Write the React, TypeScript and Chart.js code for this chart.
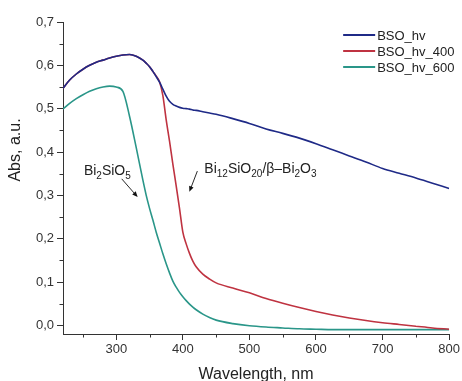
import { useEffect, useRef } from 'react';
import { Chart, registerables } from 'chart.js';

Chart.register(...registerables);

const FONT = '"Liberation Sans", Arial, sans-serif';

const wavelengths = [220, 230, 240, 250, 260, 270, 280, 290, 300, 310, 320, 330, 340, 345, 350, 355, 360, 365, 370, 375, 380, 385, 390, 395, 400, 405, 410, 415, 420, 430, 440, 450, 475, 500, 525, 550, 575, 600, 625, 650, 675, 700, 725, 750, 775, 800];

const bsoHv = [0.547, 0.566, 0.580, 0.591, 0.600, 0.607, 0.612, 0.617, 0.621, 0.624, 0.625, 0.621, 0.612, 0.605, 0.597, 0.586, 0.574, 0.561, 0.545, 0.529, 0.517, 0.510, 0.506, 0.503, 0.501, 0.500, 0.499, 0.497, 0.496, 0.493, 0.490, 0.487, 0.477, 0.466, 0.453, 0.443, 0.432, 0.419, 0.405, 0.391, 0.377, 0.362, 0.351, 0.340, 0.328, 0.316];

const bsoHv400 = [0.547, 0.566, 0.580, 0.591, 0.600, 0.607, 0.612, 0.617, 0.621, 0.624, 0.625, 0.621, 0.612, 0.605, 0.597, 0.586, 0.575, 0.562, 0.530, 0.474, 0.425, 0.372, 0.322, 0.270, 0.215, 0.188, 0.166, 0.148, 0.135, 0.118, 0.107, 0.098, 0.086, 0.075, 0.062, 0.051, 0.041, 0.032, 0.024, 0.017, 0.011, 0.006, 0.002, -0.002, -0.006, -0.009];

const bsoHv600 = [0.499, 0.512, 0.523, 0.532, 0.540, 0.546, 0.550, 0.552, 0.550, 0.540, 0.482, 0.410, 0.335, 0.300, 0.270, 0.243, 0.215, 0.190, 0.165, 0.142, 0.121, 0.102, 0.088, 0.076, 0.066, 0.057, 0.049, 0.042, 0.036, 0.026, 0.018, 0.012, 0.004, -0.001, -0.004, -0.006, -0.008, -0.009, -0.010, -0.010, -0.010, -0.010, -0.010, -0.010, -0.010, -0.010];

const seriesLabels = ['BSO_hv', 'BSO_hv_400', 'BSO_hv_600'];
const seriesColors = ['#1f2a87', '#bf3341', '#2a9689'];

const xMajorTicks = [300, 400, 500, 600, 700, 800];
const xMinorTicks = [250, 350, 450, 550, 650, 750];
const yMajorTicks = [0, 0.1, 0.2, 0.3, 0.4, 0.5, 0.6, 0.7];
const yMinorTicks = [0.05, 0.15, 0.25, 0.35, 0.45, 0.55, 0.65];

// annotation anchors in data units (wavelength, absorbance)
const label1Parts = [['Bi', false], ['2', true], ['SiO', false], ['5', true]];
const label1Pos = [251.4, 0.347];
const arrow1 = [[308.2, 0.338], [332.1, 0.296]];
const label2Parts = [['Bi', false], ['12', true], ['SiO', false], ['20', true], ['/β–Bi', false], ['2', true], ['O', false], ['3', true]];
const label2Pos = [432.3, 0.352];
const arrow2 = [[421.8, 0.356], [409.8, 0.308]];

const decorPlugin = {
  id: 'decor',
  afterDraw(chart: any) {
    const { ctx, chartArea, scales } = chart;
    const xs = scales.x;
    const ys = scales.y;
    ctx.save();
    // minor ticks
    ctx.strokeStyle = '#333';
    ctx.lineWidth = 1;
    ctx.beginPath();
    xMinorTicks.forEach((v) => {
      const px = Math.round(xs.getPixelForValue(v)) + 0.5;
      ctx.moveTo(px, chartArea.bottom);
      ctx.lineTo(px, chartArea.bottom + 3.5);
    });
    yMinorTicks.forEach((v) => {
      const py = Math.round(ys.getPixelForValue(v)) + 0.5;
      ctx.moveTo(chartArea.left, py);
      ctx.lineTo(chartArea.left - 3.5, py);
    });
    ctx.stroke();

    // legend
    ctx.font = `13px ${FONT}`;
    ctx.textBaseline = 'middle';
    ctx.textAlign = 'left';
    seriesLabels.forEach((lab, i) => {
      const yy = chartArea.top + 13 + i * 16;
      const x0 = chartArea.right - 106;
      ctx.strokeStyle = seriesColors[i];
      ctx.lineWidth = 2;
      ctx.beginPath();
      ctx.moveTo(x0, yy);
      ctx.lineTo(x0 + 32, yy);
      ctx.stroke();
      ctx.fillStyle = '#222';
      ctx.fillText(lab, x0 + 34, yy + 1);
    });

    // formula labels
    const drawFormula = (parts: any[], pos: number[]) => {
      let x = xs.getPixelForValue(pos[0]);
      const y = ys.getPixelForValue(pos[1]);
      ctx.fillStyle = '#222';
      ctx.textBaseline = 'alphabetic';
      parts.forEach(([t, sub]) => {
        ctx.font = sub ? `10px ${FONT}` : `14px ${FONT}`;
        ctx.fillText(t, x, sub ? y + 4 : y);
        x += ctx.measureText(t).width;
      });
    };
    drawFormula(label1Parts, label1Pos);
    drawFormula(label2Parts, label2Pos);

    const drawArrow = (a: number[][]) => {
      const x1 = xs.getPixelForValue(a[0][0]);
      const y1 = ys.getPixelForValue(a[0][1]);
      const x2 = xs.getPixelForValue(a[1][0]);
      const y2 = ys.getPixelForValue(a[1][1]);
      const ang = Math.atan2(y2 - y1, x2 - x1);
      ctx.strokeStyle = '#111';
      ctx.fillStyle = '#111';
      ctx.lineWidth = 0.9;
      ctx.beginPath();
      ctx.moveTo(x1, y1);
      ctx.lineTo(x2 - 4 * Math.cos(ang), y2 - 4 * Math.sin(ang));
      ctx.stroke();
      const L = 6;
      const w = 0.4;
      ctx.beginPath();
      ctx.moveTo(x2, y2);
      ctx.lineTo(x2 - L * Math.cos(ang - w), y2 - L * Math.sin(ang - w));
      ctx.lineTo(x2 - L * Math.cos(ang + w), y2 - L * Math.sin(ang + w));
      ctx.closePath();
      ctx.fill();
    };
    drawArrow(arrow1);
    drawArrow(arrow2);

    // axis titles
    ctx.fillStyle = '#222';
    ctx.font = `16px ${FONT}`;
    ctx.textAlign = 'center';
    ctx.textBaseline = 'alphabetic';
    ctx.fillText('Wavelength, nm', (chartArea.left + chartArea.right) / 2, chart.height - 2.5);
    ctx.save();
    ctx.translate(20, chartArea.top + 128);
    ctx.rotate(-Math.PI / 2);
    ctx.fillText('Abs, a.u.', 0, 0);
    ctx.restore();
    ctx.restore();
  },
};

export default function App() {
  const ref = useRef<HTMLCanvasElement | null>(null);
  useEffect(() => {
    if (!ref.current) return;
    const mk = (vals: number[], i: number) => ({
      label: seriesLabels[i],
      data: wavelengths.map((w, k) => ({ x: w, y: vals[k] })),
      borderColor: seriesColors[i],
      backgroundColor: seriesColors[i],
      borderWidth: 1.6,
      pointRadius: 0,
      cubicInterpolationMode: 'monotone' as const,
      fill: false,
    });
    const chart = new Chart(ref.current, {
      type: 'line',
      data: { datasets: [mk(bsoHv, 0), mk(bsoHv400, 1), mk(bsoHv600, 2)] },
      options: {
        responsive: false,
        animation: false,
        devicePixelRatio: 1,
        layout: { padding: { top: 22, right: 11, left: 0, bottom: 0 } },
        plugins: { legend: { display: false }, tooltip: { enabled: false } },
        scales: {
          x: {
            type: 'linear',
            min: 220,
            max: 800,
            afterBuildTicks: (s: any) => {
              s.ticks = xMajorTicks.map((v) => ({ value: v }));
            },
            afterFit: (s: any) => {
              s.height = 47;
            },
            grid: { display: true, drawOnChartArea: false, drawTicks: true, tickLength: 6, color: '#333' },
            border: { display: true, color: '#333', width: 1 },
            ticks: {
              color: '#333',
              font: { size: 13, family: FONT },
              padding: 2,
              maxRotation: 0,
              autoSkip: false,
              callback: (v: any) => String(v),
            },
          },
          y: {
            type: 'linear',
            min: -0.02,
            max: 0.7,
            afterBuildTicks: (s: any) => {
              s.ticks = yMajorTicks.map((v) => ({ value: v }));
            },
            afterFit: (s: any) => {
              s.width = 63;
            },
            grid: { display: true, drawOnChartArea: false, drawTicks: true, tickLength: 6, color: '#333' },
            border: { display: true, color: '#333', width: 1 },
            ticks: {
              color: '#333',
              font: { size: 13, family: FONT },
              padding: 3,
              autoSkip: false,
              callback: (v: any) => Number(v).toFixed(1).replace('.', ','),
            },
          },
        },
      },
      plugins: [decorPlugin],
    });
    return () => chart.destroy();
  }, []);
  return (
    <div style={{ position: 'fixed', left: 0, top: 0, width: 462, height: 381, background: '#fff' }}>
      <canvas ref={ref} width={462} height={381} />
    </div>
  );
}
